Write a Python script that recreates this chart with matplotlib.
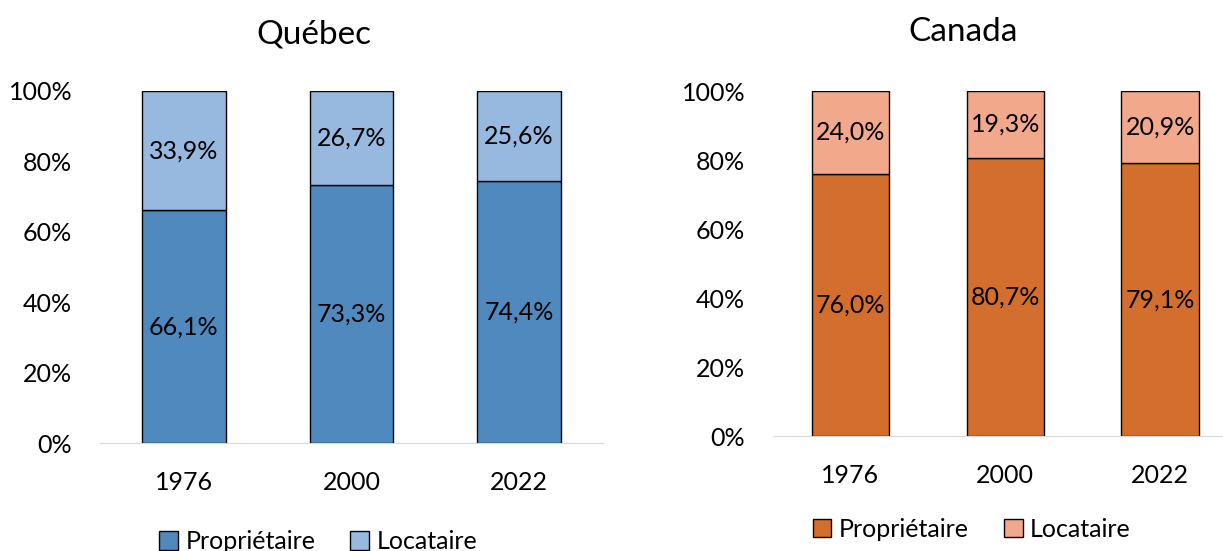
import matplotlib.pyplot as plt
from matplotlib.patches import Patch
from matplotlib.ticker import FuncFormatter

years = ['1976', '2000', '2022']
quebec_owner = [66.1, 73.3, 74.4]
quebec_renter = [33.9, 26.7, 25.6]
canada_owner = [76.0, 80.7, 79.1]
canada_renter = [24.0, 19.3, 20.9]

plt.rcParams['font.family'] = ['Lato', 'DejaVu Sans']

fig = plt.figure(figsize=(12.23, 5.51), dpi=100)
ax1 = fig.add_axes([0.0818, 0.196, 0.4112, 0.639])
ax2 = fig.add_axes([0.632, 0.2087, 0.38, 0.626])


def fmt(v):
    return '{:.1f}%'.format(v).replace('.', ',')


def draw(ax, title, owner, renter, c_owner, c_renter, title_x, title_pad, leg_x, leg_y):
    x = range(len(years))
    ax.bar(x, owner, width=0.5, color=c_owner, edgecolor='black', linewidth=1)
    ax.bar(x, renter, width=0.5, bottom=owner, color=c_renter, edgecolor='black', linewidth=1)
    for i in x:
        ax.text(i, owner[i] / 2, fmt(owner[i]), ha='center', va='center', fontsize=18)
        ax.text(i, owner[i] + renter[i] / 2, fmt(renter[i]), ha='center', va='center', fontsize=18)
    ax.set_xlim(-0.5, 2.5)
    ax.set_ylim(0, 100)
    ax.set_yticks([0, 20, 40, 60, 80, 100])
    ax.yaxis.set_major_formatter(FuncFormatter(lambda v, p: '{:.0f}%'.format(v)))
    ax.set_xticks(list(x))
    ax.set_xticklabels(years)
    ax.tick_params(axis='both', length=0, labelsize=18)
    ax.tick_params(axis='x', pad=20)
    ax.tick_params(axis='y', pad=20)
    for s in ['top', 'right', 'left']:
        ax.spines[s].set_visible(False)
    ax.spines['bottom'].set_color('#d9d9d9')
    ax.set_title(title, fontsize=24, pad=title_pad, x=title_x)
    handles = [Patch(facecolor=c_owner, edgecolor='black', label='Propriétaire'),
               Patch(facecolor=c_renter, edgecolor='black', label='Locataire')]
    ax.legend(handles=handles, loc='center', bbox_to_anchor=(leg_x, leg_y), ncol=2,
              frameon=False, fontsize=18, handlelength=0.75, handleheight=0.75,
              handletextpad=0.3, columnspacing=1.4)


draw(ax1, 'Québec', quebec_owner, quebec_renter, '#4f89bd', '#98b9df', 0.426, 34, 0.434, -0.28)
draw(ax2, 'Canada', canada_owner, canada_renter, '#d36e2c', '#f2a98b', 0.41, 36, 0.428, -0.27)

fig.savefig('out.png', dpi=100)
